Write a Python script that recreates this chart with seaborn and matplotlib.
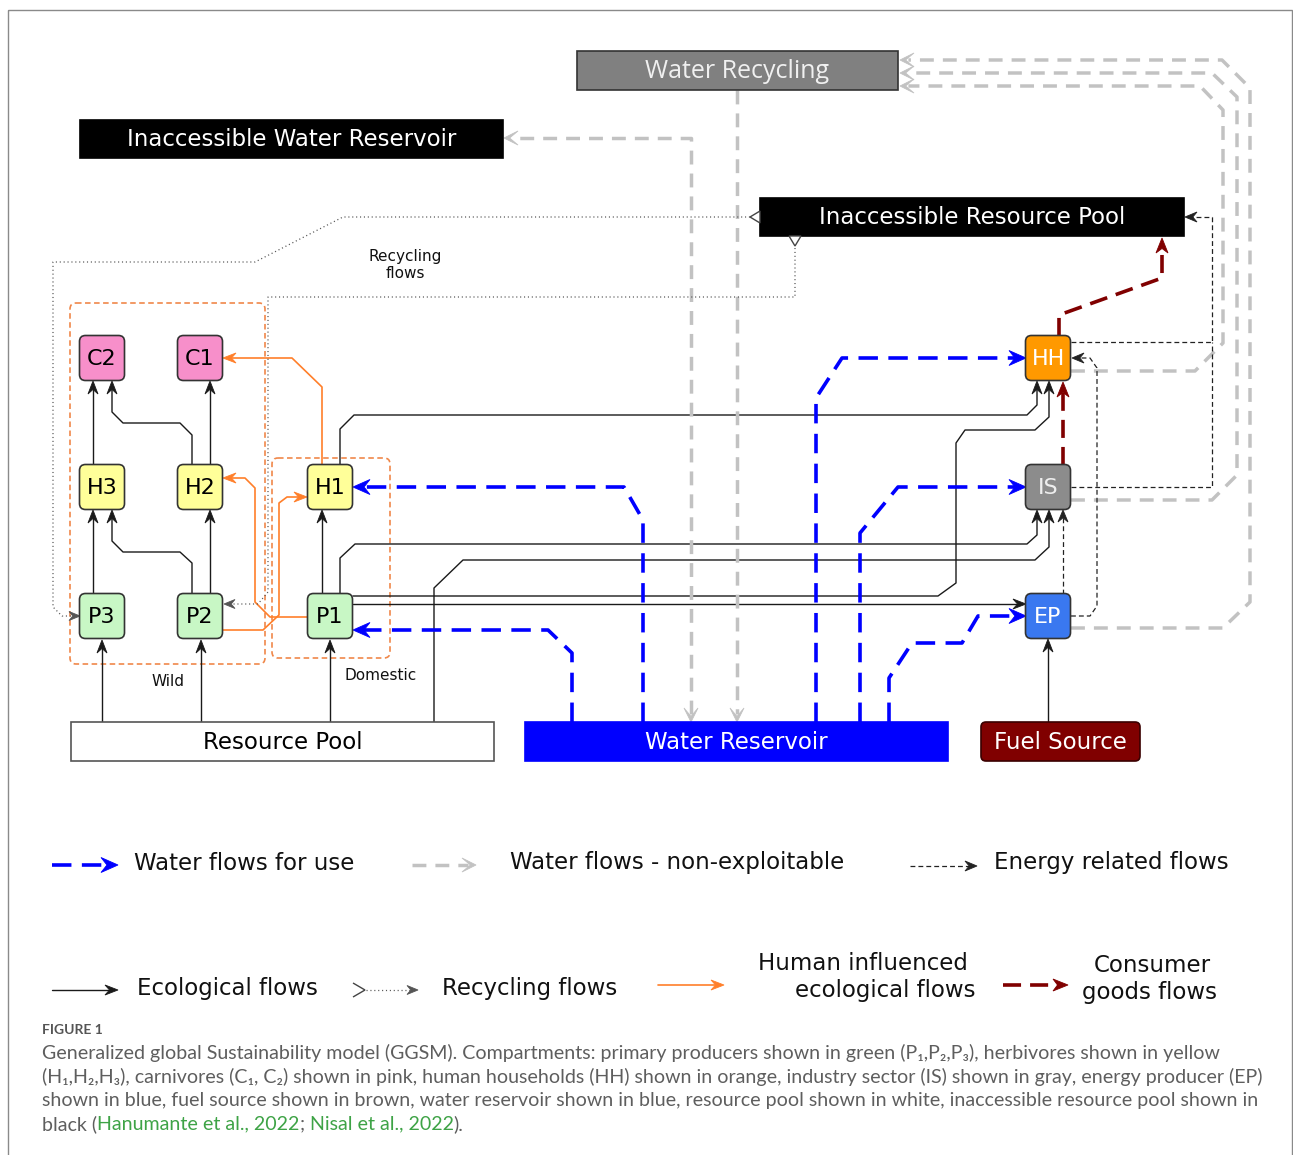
import matplotlib
matplotlib.use("Agg")
import matplotlib.pyplot as plt
from matplotlib.patches import FancyBboxPatch, Rectangle, Polygon
import numpy as np
import seaborn as sns

sns.set_theme(style="white")
plt.rcParams['font.family'] = ['DejaVu Sans']
plt.rcParams['lines.scale_dashes'] = False

# ---- content ----
node_names = ["C2", "C1", "H3", "H2", "H1", "P3", "P2", "P1", "HH", "IS", "EP"]
node_colors = ["#f78fca", "#f78fca", "#ffff99", "#ffff99", "#ffff99",
               "#c8f7c5", "#c8f7c5", "#c8f7c5", "#ff9900", "#8c8c8c", "#3a78f0"]
node_text = ["black"] * 8 + ["white", "#eeeeee", "white"]

pool_names = ["Water Recycling", "Inaccessible Water Reservoir", "Inaccessible Resource Pool",
              "Resource Pool", "Water Reservoir", "Fuel Source"]
pool_colors = ["#808080", "black", "black", "white", "#0000ff", "#800000"]
pool_text = ["#f0f0f0", "white", "white", "black", "white", "white"]

legend_labels = ["Water flows for use", "Water flows - non-exploitable", "Energy related flows",
                 "Ecological flows", "Recycling flows",
                 ["Human influenced", "ecological flows"], ["Consumer", "goods flows"]]
legend_kinds = ["water", "nonexp", "energy", "eco", "recyc", "human", "goods"]

caption_title = "FIGURE 1"
caption_lines = [
    "Generalized global Sustainability model (GGSM). Compartments: primary producers shown in green (P\u2081,P\u2082,P\u2083), herbivores shown in yellow",
    "(H\u2081,H\u2082,H\u2083), carnivores (C\u2081, C\u2082) shown in pink, human households (HH) shown in orange, industry sector (IS) shown in gray, energy producer (EP)",
    "shown in blue, fuel source shown in brown, water reservoir shown in blue, resource pool shown in white, inaccessible resource pool shown in",
]
caption_last = [("black (", "gray"), ("Hanumante et al., 2022", "ref"), (";", "gray"),
                (" Nisal et al., 2022", "ref"), (").", "gray")]

# ---- layout (pixel coordinates, y downwards) ----
node_pos = {"C2": (102, 358), "C1": (200, 358), "H3": (102, 487), "H2": (200, 487),
            "H1": (330, 487), "P3": (102, 616), "P2": (200, 616), "P1": (330, 616),
            "HH": (1048, 358), "IS": (1048, 487), "EP": (1048, 616)}
pool_box = {"Water Recycling": (577, 51, 898, 90),
            "Inaccessible Water Reservoir": (80, 120, 503, 158),
            "Inaccessible Resource Pool": (760, 198, 1184, 236),
            "Resource Pool": (71, 722, 494, 761),
            "Water Reservoir": (525, 722, 948, 761),
            "Fuel Source": (981, 722, 1140, 761)}

styles = {
    "eco": dict(color="#1a1a1a", lw=1.0, dash=None, L=13, Wd=10, notch=0.35),
    "human": dict(color="#ff7f2a", lw=1.2, dash=None, L=13, Wd=10, notch=0.35),
    "water": dict(color="#0000ff", lw=2.6, dash=(14, 7.5), L=17, Wd=15, notch=0.35),
    "nonexp": dict(color="#c2c2c2", lw=2.5, dash=(10, 6.5), L=14, Wd=14, notch=0.6),
    "energy": dict(color="#222222", lw=0.9, dash=(3.5, 2.2), L=12, Wd=10, notch=0.35),
    "goods": dict(color="#800000", lw=2.6, dash=(13, 6.5), L=15, Wd=12, notch=0.3),
    "recyc": dict(color="#555555", lw=0.9, dash=(0.8, 2.0), L=11, Wd=9, notch=0.35),
}

flows = [
    # ecological
    ("eco", [(102, 722), (102, 640)], "end"),
    ("eco", [(201, 722), (201, 640)], "end"),
    ("eco", [(330, 722), (330, 640)], "end"),
    ("eco", [(93, 594), (93, 510)], "end"),
    ("eco", [(192, 594), (192, 563), (180, 552), (123, 552), (112, 541), (112, 510)], "end"),
    ("eco", [(210, 594), (210, 510)], "end"),
    ("eco", [(93, 464), (93, 381)], "end"),
    ("eco", [(192, 464), (192, 435), (180, 423), (123, 423), (112, 412), (112, 381)], "end"),
    ("eco", [(210, 464), (210, 381)], "end"),
    ("eco", [(322, 594), (322, 510)], "end"),
    ("eco", [(340, 465), (340, 429), (354, 415), (1027, 415), (1037, 405), (1037, 381)], "end"),
    ("eco", [(353, 596), (938, 596), (956, 583), (956, 443), (965, 430), (1035, 430),
             (1049, 417), (1049, 381)], "end"),
    ("eco", [(340, 594), (340, 558), (355, 544), (1027, 544), (1037, 535), (1037, 510)], "end"),
    ("eco", [(434, 722), (434, 588), (463, 560), (1035, 560), (1049, 547), (1049, 510)], "end"),
    ("eco", [(353, 604), (1026, 604)], "end"),
    ("eco", [(1048, 722), (1048, 639)], "end"),
    # human influenced
    ("human", [(322, 465), (322, 387), (292, 358), (223, 358)], "end"),
    ("human", [(308, 617), (270, 617), (255, 602), (255, 488), (245, 478), (223, 478)], "end"),
    ("human", [(223, 630), (263, 630), (279, 615), (279, 503), (287, 497), (307, 497)], "end"),
    # water for use
    ("water", [(643, 722), (643, 520), (624, 487), (353, 487)], "end"),
    ("water", [(572, 722), (572, 653), (548, 630), (353, 630)], "end"),
    ("water", [(816, 722), (816, 398), (842, 358), (1026, 358)], "end"),
    ("water", [(860, 722), (860, 533), (898, 487), (1026, 487)], "end"),
    ("water", [(889, 722), (889, 678), (912, 643), (962, 643), (978, 616), (1026, 616)], "end"),
    # non-exploitable
    ("nonexp", [(737, 90), (737, 722)], "end"),
    ("nonexp", [(691, 722), (691, 138), (504, 138)], "both"),
    ("nonexp", [(1071, 371), (1195, 371), (1223, 343), (1223, 110), (1200, 86), (900, 86)], "end"),
    ("nonexp", [(1071, 500), (1212, 500), (1237, 475), (1237, 97), (1212, 73), (900, 73)], "end"),
    ("nonexp", [(1071, 628), (1223, 628), (1250, 602), (1250, 88), (1222, 60), (900, 60)], "end"),
    # energy
    ("energy", [(1071, 342), (1212, 342), (1212, 217), (1185, 217)], "end"),
    ("energy", [(1071, 487), (1212, 487), (1212, 342)], "none"),
    ("energy", [(1071, 616), (1090, 616), (1097, 606), (1097, 368), (1090, 358), (1072, 358)], "end"),
    ("energy", [(1063, 594), (1063, 510)], "end"),
    # consumer goods
    ("goods", [(1059, 336), (1059, 315), (1162, 278), (1162, 238)], "end"),
    ("goods", [(1063, 465), (1063, 382)], "end"),
    # recycling
    ("recyc", [(750, 217), (343, 217), (255, 262), (53, 262), (53, 607), (62, 616), (80, 616)], "end"),
    ("recyc", [(795, 248), (795, 297), (268, 297), (268, 592), (258, 604), (224, 604)], "end"),
]


def arrow_head(ax, tip, prev, st, z=5):
    tip = np.asarray(tip, float)
    d = tip - np.asarray(prev, float)
    d /= np.linalg.norm(d)
    n = np.array([-d[1], d[0]])
    base = tip - d * st["L"]
    pts = [tip, base + n * st["Wd"] / 2, tip - d * st["L"] * (1 - st["notch"]), base - n * st["Wd"] / 2]
    ax.add_patch(Polygon(pts, closed=True, fc=st["color"], ec=st["color"], lw=0.6,
                         joinstyle="miter", zorder=z))


def open_tail(ax, base_mid, direction, size=12, length=10, closed=True):
    b = np.asarray(base_mid, float)
    d = np.asarray(direction, float)
    d /= np.linalg.norm(d)
    n = np.array([-d[1], d[0]])
    pts = [b + n * size / 2, b + d * length, b - n * size / 2]
    ax.add_patch(Polygon(pts, closed=closed, fill=closed, fc="white", ec="#444444",
                         lw=1.0, zorder=7))


def draw_flow(ax, kind, pts, heads="end", z=3):
    st = styles[kind]
    p = np.array(pts, float)
    line = p.copy()
    if heads in ("end", "both"):
        d = p[-1] - p[-2]
        line[-1] = p[-1] - d / np.linalg.norm(d) * st["L"] * 0.6
    if heads == "both":
        d = p[0] - p[1]
        line[0] = p[0] - d / np.linalg.norm(d) * st["L"] * 0.6
    ls = "-" if st["dash"] is None else (0, st["dash"])
    sns.lineplot(x=line[:, 0], y=line[:, 1], sort=False, estimator=None, color=st["color"],
                 linewidth=st["lw"], linestyle=ls, ax=ax, zorder=z, legend=False)
    if heads in ("end", "both"):
        arrow_head(ax, p[-1], p[-2], st)
    if heads == "both":
        arrow_head(ax, p[0], p[1], st)


fig = plt.figure(figsize=(12.93, 11.55), dpi=100)
ax = fig.add_axes([0, 0, 1, 1])

# outer frame
ax.add_patch(Rectangle((8, 10), 1284, 1150, fill=False, ec="#8a8a8a", lw=1.0, zorder=1))

# group boxes
for (x0, y0, w, h) in [(70, 303, 195, 361), (272, 458, 118, 200)]:
    ax.add_patch(FancyBboxPatch((x0, y0), w, h, boxstyle="round,pad=0,rounding_size=6",
                                fill=False, ec="#f0884a", lw=1.2, ls=(0, (4, 2.5)), zorder=2))
ax.text(168, 682, "Wild", ha="center", va="center", fontsize=11, color="#111111")
ax.text(381, 675, "Domestic", ha="center", va="center", fontsize=11, color="#111111")
ax.text(405, 256, "Recycling", ha="center", va="center", fontsize=11, color="#111111")
ax.text(405, 273, "flows", ha="center", va="center", fontsize=11, color="#111111")

# flows
for kind, pts, heads in flows:
    draw_flow(ax, kind, pts, heads)

# open tails of recycling flows at the inaccessible resource pool
open_tail(ax, (760, 217), (-1, 0))
open_tail(ax, (795, 236), (0, 1))

# pools
for name, col, tc in zip(pool_names, pool_colors, pool_text):
    x0, y0, x1, y1 = pool_box[name]
    if name == "Fuel Source":
        patch = FancyBboxPatch((x0, y0), x1 - x0, y1 - y0, boxstyle="round,pad=0,rounding_size=5",
                               fc=col, ec="#3a0000", lw=1.2, zorder=6)
    else:
        ec = {"white": "#555555", "#808080": "#333333"}.get(col, col)
        patch = Rectangle((x0, y0), x1 - x0, y1 - y0, fc=col, ec=ec, lw=1.2, zorder=6)
    ax.add_patch(patch)
    if name == "Water Recycling":
        fam, fs = ["Open Sans", "DejaVu Sans"], 18
    else:
        fam, fs = ["DejaVu Sans"], 16.5
    ax.text((x0 + x1) / 2, (y0 + y1) / 2 + 1, name, ha="center", va="center",
            fontsize=fs, color=tc, family=fam, zorder=7)

# compartments
for name, col, tc in zip(node_names, node_colors, node_text):
    cx, cy = node_pos[name]
    ax.add_patch(FancyBboxPatch((cx - 22.5, cy - 22.5), 45, 45, boxstyle="round,pad=0,rounding_size=6",
                                fc=col, ec="#333333", lw=1.2, zorder=6))
    ax.text(cx, cy + 1, name, ha="center", va="center", fontsize=16, color=tc, zorder=7)

# legend
legend_lines = {"water": [(52, 865), (118, 865)], "nonexp": [(412, 865), (476, 865)],
                "energy": [(910, 866), (977, 866)], "eco": [(52, 990), (118, 990)],
                "recyc": [(366, 990), (418, 990)], "human": [(658, 985), (724, 985)],
                "goods": [(1003, 985), (1068, 985)]}
legend_text_pos = [(134, 863), (510, 863), (994, 863), (137, 988), (442, 988),
                   [(863, 964), (885, 991)], [(1152, 965), (1150, 992)]]
for kind, lab, pos in zip(legend_kinds, legend_labels, legend_text_pos):
    draw_flow(ax, kind, legend_lines[kind], "end")
    if isinstance(lab, list):
        for txt, (tx, ty) in zip(lab, pos):
            ax.text(tx, ty, txt, ha="center", va="center", fontsize=16.5, color="#111111")
    else:
        ax.text(pos[0], pos[1], lab, ha="left", va="center", fontsize=16.5, color="#111111")
open_tail(ax, (353, 990), (1, 0), size=14, length=12, closed=False)

# caption
cap_gray = "#5e5e5e"
cap_green = "#3ea346"
cap_font = ["Lato", "DejaVu Sans"]
renderer = fig.canvas.get_renderer()
probe = ax.text(0, 0, caption_lines[1], fontsize=12, family=cap_font)
wpx = probe.get_window_extent(renderer).width
probe.remove()
cap_size = 12 * 1214 / wpx

ax.text(42, 1030, caption_title, ha="left", va="center", fontsize=10, color="#555555",
        fontweight="bold", family=cap_font)
for i, line in enumerate(caption_lines):
    ax.text(42, 1053 + i * 23.7, line, ha="left", va="center", fontsize=cap_size,
            color=cap_gray, family=cap_font)
prefix = ""
for piece, kind in caption_last:
    offset = 0
    if prefix:
        probe = ax.text(0, 0, prefix, fontsize=cap_size, family=cap_font)
        offset = probe.get_window_extent(renderer).width
        probe.remove()
    ax.text(42 + offset, 1124, piece, ha="left", va="center", fontsize=cap_size,
            color=cap_green if kind == "ref" else cap_gray, family=cap_font)
    prefix += piece

ax.set_xlim(0, 1293)
ax.set_ylim(1155, 0)
ax.axis("off")
fig.savefig("out.png", dpi=100, facecolor="white")
